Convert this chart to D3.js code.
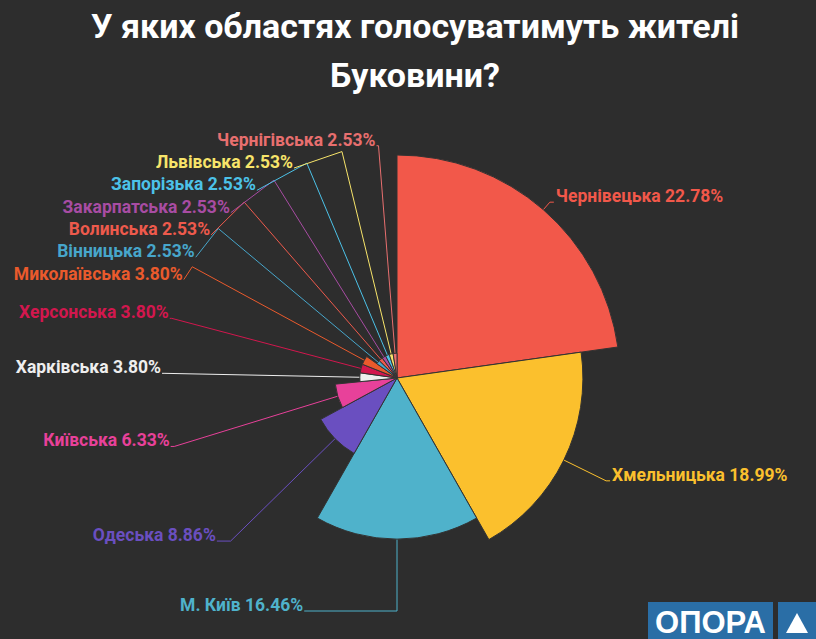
<!DOCTYPE html>
<html><head><meta charset="utf-8">
<script src="https://cdn.jsdelivr.net/npm/d3@7/dist/d3.min.js"></script>
<style>
html,body{margin:0;padding:0;background:#2d2d2d;}
svg{display:block;}
</style>
</head><body>
<svg id="chart" width="816" height="639"></svg>
<script>
// ---- data ----
const categories = ["Чернівецька","Хмельницька","М. Київ","Одеська","Київська","Харківська","Херсонська","Миколаївська","Вінницька","Волинська","Закарпатська","Запорізька","Львівська","Чернігівська"];
const values = [22.78,18.99,16.46,8.86,6.33,3.80,3.80,3.80,2.53,2.53,2.53,2.53,2.53,2.53];
const colors = ["#f2584a","#fbc02d","#4fb2cb","#6a4fc0","#e8419a","#eeeeee","#d2174e","#ea5a2c","#47a6cb","#ee5a4c","#a84ca3","#4cc2e8","#f7e46a","#e86f6f"];
const titleLines = ["У яких областях голосуватимуть жителі","Буковини?"];
const logoText = "ОПОРА";

(function () {
// ---- layout ----
const W = 816, H = 639;
const cx = 397, cy = 378, R = 223;
const len1 = 10, gapY = 22.3;
const svg = d3.select("#chart");
svg.append("rect").attr("width", W).attr("height", H).attr("fill", "#2d2d2d");

// title
svg.append("g").selectAll("text").data(titleLines).join("text")
  .attr("x", 415).attr("y", (d, i) => 38 + i * 49)
  .attr("text-anchor", "middle")
  .attr("fill", "#ffffff")
  .style("font-family", "Roboto, 'Noto Sans', sans-serif")
  .style("font-weight", "bold")
  .style("font-size", "34px")
  .text(d => d);

const data = categories.map((c, i) => ({ name: c, value: values[i], color: colors[i] }));
const rScale = d3.scaleLinear().domain([0, d3.max(values)]).range([0, R]);
const pie = d3.pie().sort(null).value(d => d.value);
const arcs = pie(data);
const arcGen = d3.arc().innerRadius(0).outerRadius(d => rScale(d.data.value));

// label geometry
arcs.forEach(a => {
  a.mid = (a.startAngle + a.endAngle) / 2;
  const sx = Math.sin(a.mid), sy = -Math.cos(a.mid);
  const r = rScale(a.data.value);
  a.tx = cx + r * sx; a.ty = cy + r * sy;
  a.bx = cx + (R + len1) * sx; a.by = cy + (R + len1) * sy;
  a.left = sx < 0.01;
});
const rA = R + len1;
// right side
arcs.filter(a => !a.left).forEach(a => {
  a.lx = a.bx + 4; a.ly = a.by;
  a.textX = a.lx + 2; a.anchor = "start";
});
// left side: shift overlapping labels downward, then align on ellipse
const leftSide = arcs.filter(a => a.left).sort((p, q) => p.by - q.by);
leftSide.forEach((a, i) => {
  a.ly = i === 0 ? a.by : Math.max(a.by, leftSide[i - 1].ly + gapY);
});
const upper = leftSide.filter(a => a.ly < cy);
const far = upper.reduce((m, a) => Math.abs(a.ly - cy) > Math.abs(m.ly - cy) ? a : m, upper[0]);
const dxn = Math.abs(far.bx - cx);
const rBTop = Math.sqrt((far.ly - cy) ** 2 / (1 - (dxn * dxn) / (rA * rA)));
const rBBottom = 253;
leftSide.forEach(a => {
  const dy = a.ly - cy;
  const rB = dy < 0 ? rBTop : rBBottom;
  const k = Math.sqrt(Math.max(0, 1 - (dy * dy) / (rB * rB)));
  a.lx = cx - (rA * k + 2);
  a.textX = a.lx - 1; a.anchor = "end";
});

// connector lines
svg.append("g").selectAll("path").data(arcs).join("path")
  .attr("d", a => d3.line()([[a.tx, a.ty], [a.bx, a.by], [a.lx, a.ly]]))
  .attr("fill", "none")
  .attr("stroke", a => a.data.color)
  .attr("stroke-width", 1);

// slices
svg.append("g").attr("transform", `translate(${cx},${cy})`)
  .selectAll("path").data(arcs).join("path")
  .attr("d", arcGen)
  .attr("fill", a => a.data.color)
  .attr("stroke", "#333333")
  .attr("stroke-width", 1);

// labels
svg.append("g").selectAll("text").data(arcs).join("text")
  .attr("x", a => a.textX).attr("y", a => a.ly)
  .attr("text-anchor", a => a.anchor)
  .attr("fill", a => a.data.color)
  .style("font-family", "Roboto, 'Noto Sans', sans-serif")
  .style("font-weight", "bold")
  .style("font-size", "17.5px")
  .text(a => `${a.data.name} ${a.data.value.toFixed(2)}%`);

// logo
const logo = svg.append("g");
logo.append("rect").attr("x", 648).attr("y", 602).attr("width", 125).attr("height", 37).attr("fill", "#2a6ea6");
logo.append("rect").attr("x", 778).attr("y", 602).attr("width", 38).attr("height", 37).attr("fill", "#2a6ea6");
logo.append("text").attr("x", 710.5).attr("y", 633).attr("text-anchor", "middle")
  .attr("fill", "#ffffff")
  .style("font-family", "'Liberation Sans', Arial, sans-serif")
  .style("font-weight", "bold").style("font-size", "31px")
  .text(logoText);
logo.append("path").attr("d", "M797,613L786,633L808,633Z").attr("fill", "#ffffff");
})();
</script>
</body></html>
